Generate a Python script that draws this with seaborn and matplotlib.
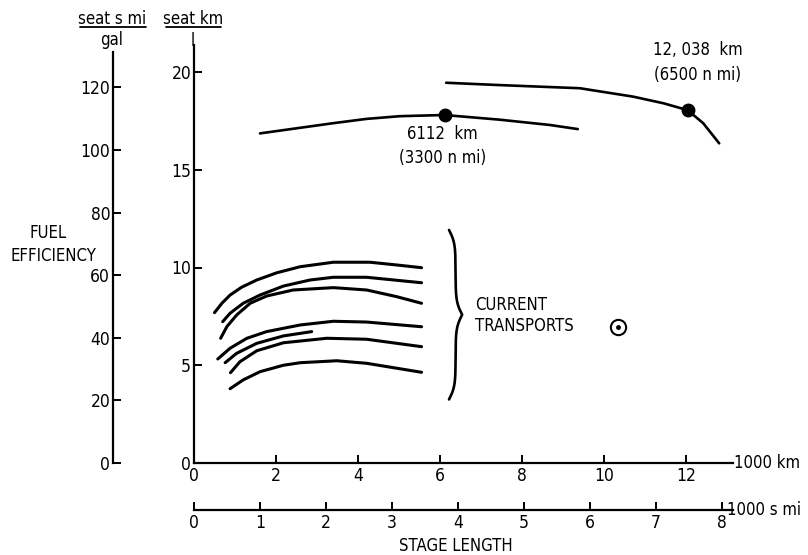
import numpy as np
import seaborn as sns
from matplotlib import pyplot as plt
from matplotlib.lines import Line2D

# Current transports: stage length (1000 km) vs fuel efficiency (seat km / l)
transport_1_km = [0.50, 0.68, 0.88, 1.16, 1.53, 2.02, 2.59, 3.40, 4.29, 4.94, 5.55]
transport_1_eff = [7.69, 8.17, 8.59, 8.99, 9.36, 9.73, 10.04, 10.27, 10.27, 10.13, 9.99]
transport_2_km = [0.70, 0.88, 1.20, 1.61, 2.18, 2.83, 3.40, 4.21, 5.55]
transport_2_eff = [7.23, 7.66, 8.17, 8.59, 9.05, 9.36, 9.50, 9.50, 9.22]
transport_3_km = [0.65, 0.80, 1.04, 1.37, 1.77, 2.42, 3.40, 4.21, 4.94, 5.55]
transport_3_eff = [6.38, 6.97, 7.57, 8.17, 8.54, 8.85, 8.97, 8.85, 8.51, 8.17]
transport_4_km = [0.58, 0.88, 1.29, 1.77, 2.59, 3.40, 4.21, 5.55]
transport_4_eff = [5.32, 5.87, 6.38, 6.72, 7.06, 7.25, 7.21, 6.97]
transport_5_km = [0.76, 1.04, 1.53, 2.18, 2.87]
transport_5_eff = [5.13, 5.61, 6.12, 6.50, 6.72]
transport_6_km = [0.89, 1.12, 1.53, 2.18, 3.24, 4.21, 5.55]
transport_6_eff = [4.62, 5.18, 5.74, 6.15, 6.38, 6.33, 5.95]
transport_7_km = [0.88, 1.20, 1.61, 2.18, 2.59, 3.48, 4.21, 5.55]
transport_7_eff = [3.80, 4.25, 4.67, 5.00, 5.13, 5.23, 5.10, 4.64]

# Advanced designs
design_3300_km = [1.61, 2.50, 3.39, 4.20, 5.02, 6.11, 7.46, 8.68, 9.36]
design_3300_eff = [16.86, 17.12, 17.38, 17.60, 17.74, 17.80, 17.56, 17.29, 17.08]
design_6500_km = [6.15, 7.46, 9.41, 10.71, 11.45, 12.04, 12.42, 12.81]
design_6500_eff = [19.45, 19.33, 19.17, 18.74, 18.40, 18.05, 17.38, 16.35]
design_point_km = [6.112, 12.038]
design_point_eff = [17.80, 18.05]
design_labels = ['6112  km\n(3300 n mi)', '12, 038  km\n(6500 n mi)']

odot_km = [10.35]
odot_eff = [6.97]

km_ticks = [0, 2, 4, 6, 8, 10, 12]
eff_ticks = [0, 5, 10, 15, 20]
mpg_ticks = [0, 20, 40, 60, 80, 100, 120]
smi_ticks = [0, 1, 2, 3, 4, 5, 6, 7, 8]

W, H = 808, 555


def fx(px):
    return px / W


def fy(py):
    return 1 - py / H


sns.set_style('ticks')
plt.rcParams['font.family'] = ['DejaVu Sans']
plt.rcParams['font.stretch'] = 'condensed'
plt.rcParams['font.size'] = 12
for key in ['text.color', 'xtick.color', 'ytick.color', 'axes.edgecolor', 'axes.labelcolor']:
    plt.rcParams[key] = 'black'
plt.rcParams['axes.linewidth'] = 1.6

fig = plt.figure(figsize=(W / 100, H / 100), dpi=100)
ax = fig.add_axes([fx(194), fy(463), fx(733) - fx(194), fy(45) - fy(463)])

curves = [
    (transport_1_km, transport_1_eff), (transport_2_km, transport_2_eff),
    (transport_3_km, transport_3_eff), (transport_4_km, transport_4_eff),
    (transport_5_km, transport_5_eff), (transport_6_km, transport_6_eff),
    (transport_7_km, transport_7_eff),
]
for xs, ys in curves:
    sns.lineplot(x=xs, y=ys, ax=ax, color='black', lw=2.2, sort=False, estimator=None)

sns.lineplot(x=design_3300_km, y=design_3300_eff, ax=ax, color='black', lw=1.9, sort=False, estimator=None)
sns.lineplot(x=design_6500_km, y=design_6500_eff, ax=ax, color='black', lw=1.9, sort=False, estimator=None)
ax.plot(design_point_km, design_point_eff, 'o', color='black', ms=9, zorder=5)

# point labels
ax.text(design_point_km[0] - 0.05, design_point_eff[0] - 0.5, design_labels[0],
        ha='center', va='top', linespacing=1.45)
ax.text(design_point_km[1] + 0.25, design_point_eff[1] + 1.35, design_labels[1],
        ha='center', va='bottom', linespacing=1.45)


# brace for current transports
def brace(ax, x0, y_lo, y_hi, width, beta=13):
    half = (y_hi - y_lo) / 2
    t = np.linspace(0, half, 200)
    b = beta / half
    p = 1 / (1 + np.exp(-b * (t - t[0]))) + 1 / (1 + np.exp(-b * (t - t[-1])))
    prof = np.concatenate([p, p[-2::-1]])
    ys = np.linspace(y_lo, y_hi, len(prof))
    ax.plot(x0 + width * (prof - 0.5), ys, color='black', lw=1.9)


brace(ax, 6.22, 3.25, 11.92, 0.32)
ax.text(6.85, 8.08, 'CURRENT', ha='left', va='center')
ax.text(6.85, 7.0, 'TRANSPORTS', ha='left', va='center')
ax.plot(odot_km, odot_eff, 'o', mfc='white', mec='black', mew=1.5, ms=11)
ax.plot(odot_km, odot_eff, 'o', color='black', ms=2.5)

ax.set_xlim(0, (733 - 194) / 41.0)
ax.set_ylim(0, (463 - 45) / 19.55)
ax.set_xticks(km_ticks)
ax.set_yticks(eff_ticks)
ax.tick_params(direction='in', length=6, width=1.4, pad=2, labelsize=12.5)
ax.tick_params(axis='x', pad=3)
sns.despine(ax=ax)

# lower axis in statute miles
sec = ax.secondary_xaxis((463 - 510) / (463 - 45.0),
                         functions=(lambda v: v / 1.609344, lambda v: v * 1.609344))
sec.set_xticks(smi_ticks)
sec.tick_params(direction='in', length=6, width=1.4, pad=3, labelsize=12.5)
sec.spines['bottom'].set_linewidth(1.6)

# left axis in seat s mi / gal
ax2 = fig.add_axes([fx(113), fy(463), 0.01, fy(52) - fy(463)])
ax2.set_ylim(0, (463 - 52) / 3.13)
ax2.set_yticks(mpg_ticks)
ax2.set_xticks([])
ax2.tick_params(direction='in', length=6, width=1.4, pad=2, labelsize=12.5)
for side in ['top', 'right', 'bottom']:
    ax2.spines[side].set_visible(False)
ax2.patch.set_visible(False)

# axis headers and labels
fig.text(fx(112), fy(24), 'seat s mi', ha='center', va='baseline')
fig.text(fx(112), fy(45), 'gal', ha='center', va='baseline')
fig.add_artist(Line2D([fx(80), fx(146)], [fy(27), fy(27)], color='black', lw=1.3))
fig.text(fx(193), fy(24), 'seat km', ha='center', va='baseline')
fig.text(fx(193), fy(46), 'l', ha='center', va='baseline')
fig.add_artist(Line2D([fx(166), fx(221)], [fy(27), fy(27)], color='black', lw=1.3))
fig.text(fx(48), fy(233), 'FUEL', ha='center', va='center')
fig.text(fx(53), fy(256), 'EFFICIENCY', ha='center', va='center')
fig.text(fx(734), fy(463), '1000 km', ha='left', va='center')
fig.text(fx(727), fy(510), '1000 s mi', ha='left', va='center')
fig.text(fx(456), fy(546), 'STAGE LENGTH', ha='center', va='center')

plt.savefig('out.png', dpi=100)
plt.close()
